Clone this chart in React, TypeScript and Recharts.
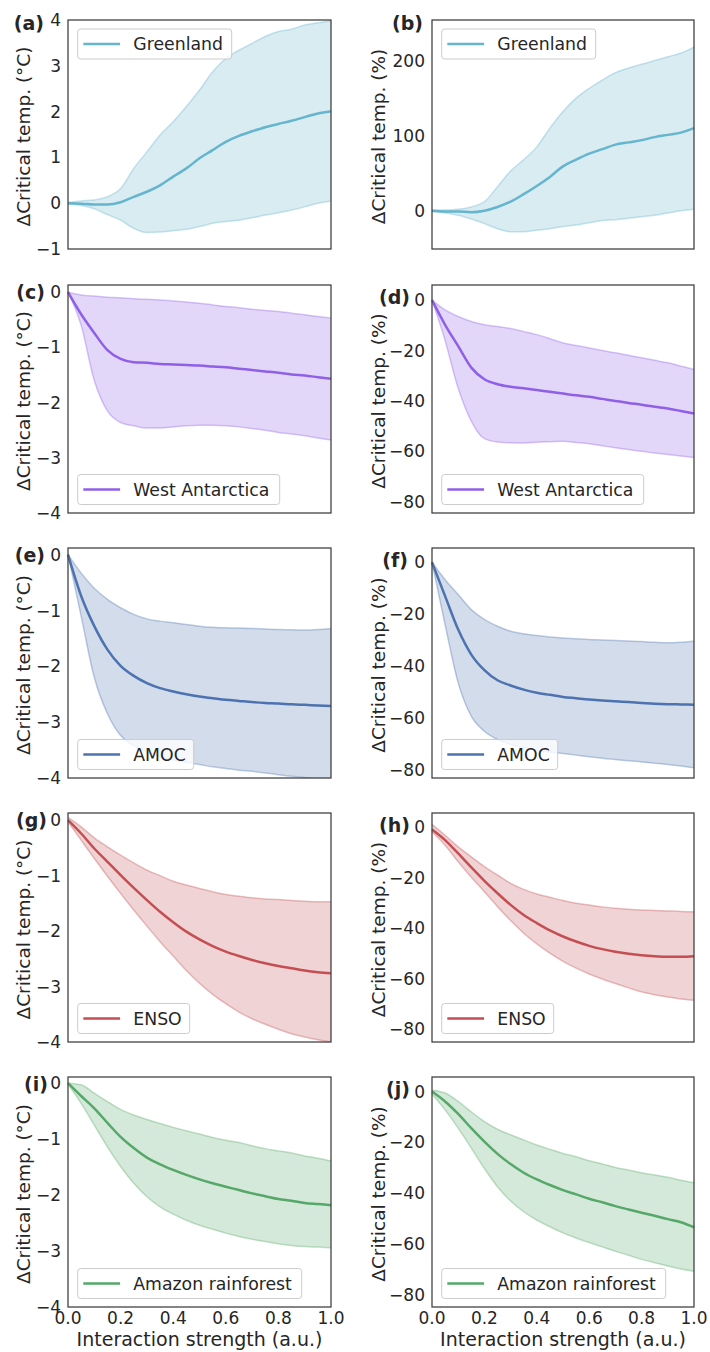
import React from 'react';
import { ComposedChart, Area, Line, XAxis, YAxis } from 'recharts';

// interaction strength samples
const XS = [0, 0.05, 0.1, 0.15, 0.2, 0.25, 0.3, 0.35, 0.4, 0.45, 0.5, 0.55, 0.6, 0.65, 0.7, 0.75, 0.8, 0.85, 0.9, 0.95, 1];
const X_TICKS = [0, 0.2, 0.4, 0.6, 0.8, 1];

// Greenland
const greenlandMean = [0, -0.01, -0.03, -0.03, 0.02, 0.14, 0.25, 0.39, 0.58, 0.76, 0.98, 1.16, 1.34, 1.47, 1.57, 1.66, 1.73, 1.8, 1.88, 1.96, 2.01];
const greenlandHi = [0.02, 0.05, 0.07, 0.14, 0.32, 0.76, 1.12, 1.49, 1.78, 2.11, 2.47, 2.87, 3.16, 3.34, 3.49, 3.64, 3.75, 3.8, 3.89, 3.94, 3.98];
const greenlandLo = [-0.02, -0.05, -0.12, -0.25, -0.37, -0.55, -0.64, -0.63, -0.6, -0.57, -0.51, -0.44, -0.4, -0.37, -0.32, -0.26, -0.21, -0.15, -0.08, 0, 0.05];
const greenlandPctMean = [0, -1, -1, -2, 0, 5, 12, 22, 33, 45, 59, 68, 76, 82, 88, 91, 94, 98, 101, 104, 110];
const greenlandPctHi = [1, 1, 2, 5, 12, 32, 53, 68, 85, 110, 132, 150, 163, 174, 184, 190, 195, 200, 205, 210, 218];
const greenlandPctLo = [-1, -3, -6, -11, -17, -24, -28, -28, -26, -24, -21, -19, -16, -13, -12, -10, -8, -6, -3, 0, 2];

// West Antarctica
const waisMean = [0, -0.4, -0.74, -1.05, -1.21, -1.27, -1.28, -1.3, -1.31, -1.32, -1.33, -1.345, -1.36, -1.385, -1.41, -1.435, -1.46, -1.49, -1.51, -1.54, -1.57];
const waisHi = [0, -0.05, -0.07, -0.09, -0.1, -0.12, -0.13, -0.14, -0.16, -0.18, -0.2, -0.23, -0.26, -0.28, -0.31, -0.33, -0.35, -0.38, -0.41, -0.44, -0.47];
const waisLo = [0, -0.6, -1.6, -2.15, -2.36, -2.42, -2.46, -2.46, -2.44, -2.42, -2.41, -2.41, -2.42, -2.44, -2.47, -2.5, -2.54, -2.57, -2.6, -2.64, -2.68];
const waisPctMean = [0, -9.8, -18.3, -26.8, -31.4, -33.4, -34.4, -35, -35.7, -36.4, -37.1, -37.8, -38.4, -39.2, -40, -40.8, -41.5, -42.3, -43, -44, -45];
const waisPctHi = [0, -3.9, -6.5, -8.5, -9.8, -10.5, -11.3, -12.5, -13.7, -15.3, -17, -18, -19, -20, -20.9, -21.9, -22.9, -23.9, -24.9, -26.2, -27.5];
const waisPctLo = [0, -16, -35, -48, -55, -56.3, -56.6, -56.7, -56.4, -56.2, -56, -56.5, -57, -57.8, -58.6, -59.3, -60, -60.7, -61.3, -61.9, -62.5];

// AMOC
const amocMean = [0, -0.74, -1.28, -1.7, -1.99, -2.17, -2.3, -2.39, -2.45, -2.5, -2.54, -2.57, -2.6, -2.62, -2.64, -2.655, -2.665, -2.68, -2.69, -2.7, -2.71];
const amocHi = [0, -0.33, -0.6, -0.8, -0.95, -1.07, -1.15, -1.19, -1.22, -1.25, -1.28, -1.3, -1.31, -1.315, -1.32, -1.33, -1.34, -1.345, -1.35, -1.34, -1.32];
const amocLo = [0, -1.1, -2.2, -2.85, -3.24, -3.42, -3.54, -3.62, -3.68, -3.72, -3.76, -3.8, -3.83, -3.86, -3.88, -3.91, -3.94, -3.97, -3.99, -4.02, -4.05];
const amocPctMean = [0, -13, -25.9, -35.5, -41.5, -45.4, -47.4, -49, -50.2, -51, -51.8, -52.3, -52.8, -53.2, -53.5, -53.8, -54.1, -54.4, -54.6, -54.7, -54.8];
const amocPctHi = [0, -6.7, -12.4, -18.2, -22, -24.6, -26.5, -27.5, -28.2, -28.7, -29.1, -29.4, -29.7, -29.9, -30.1, -30.3, -30.5, -30.8, -31, -30.8, -30.4];
const amocPctLo = [0, -24, -46.4, -59.2, -65, -68.2, -70.1, -71.3, -72.3, -73, -73.6, -74.2, -74.8, -75.4, -75.9, -76.4, -76.8, -77.3, -77.8, -78.4, -79.1];

// ENSO
const ensoMean = [0, -0.24, -0.51, -0.75, -0.99, -1.22, -1.44, -1.65, -1.84, -2.01, -2.15, -2.27, -2.37, -2.45, -2.52, -2.58, -2.63, -2.67, -2.71, -2.74, -2.76];
const ensoHi = [0.05, -0.12, -0.32, -0.48, -0.63, -0.77, -0.9, -1, -1.1, -1.17, -1.23, -1.29, -1.34, -1.37, -1.4, -1.42, -1.43, -1.45, -1.46, -1.47, -1.47];
const ensoLo = [-0.03, -0.36, -0.69, -1.01, -1.32, -1.62, -1.91, -2.19, -2.45, -2.71, -2.94, -3.14, -3.31, -3.46, -3.58, -3.68, -3.77, -3.85, -3.91, -3.96, -4];
const ensoPctMean = [-1, -5.2, -10.5, -16, -21.3, -26.2, -30.8, -34.8, -38, -40.9, -43.3, -45.3, -47, -48.3, -49.3, -50.1, -50.7, -51.1, -51.3, -51.3, -51.1];
const ensoPctHi = [1, -3.3, -7.9, -11.8, -15.7, -19, -22.3, -24.7, -26.5, -27.8, -29.1, -30.2, -30.9, -31.6, -32.1, -32.5, -32.8, -33, -33.2, -33.4, -33.5];
const ensoPctLo = [-2, -7.2, -13.8, -19.9, -25.6, -31.5, -37, -42, -46.2, -49.9, -53.1, -55.8, -58.1, -60.1, -61.9, -63.6, -65.2, -66.3, -67.2, -68, -68.5];

// Amazon rainforest
const amazonMean = [0, -0.23, -0.45, -0.71, -0.96, -1.16, -1.33, -1.45, -1.55, -1.64, -1.72, -1.79, -1.85, -1.91, -1.97, -2.02, -2.07, -2.1, -2.14, -2.16, -2.18];
const amazonHi = [0, -0.03, -0.18, -0.33, -0.47, -0.57, -0.65, -0.72, -0.79, -0.85, -0.91, -0.97, -1.02, -1.06, -1.12, -1.17, -1.21, -1.25, -1.3, -1.34, -1.39];
const amazonLo = [-0.02, -0.36, -0.75, -1.14, -1.49, -1.79, -2.03, -2.21, -2.34, -2.45, -2.54, -2.61, -2.68, -2.74, -2.79, -2.83, -2.87, -2.9, -2.92, -2.93, -2.94];
const amazonPctMean = [0, -3.9, -8.8, -14.4, -19.7, -24.5, -28.5, -31.9, -34.5, -36.7, -38.7, -40.4, -42.1, -43.5, -45, -46.3, -47.6, -48.8, -50.1, -51.3, -53.3];
const amazonPctHi = [0.5, -0.6, -3.9, -8, -11.8, -14.8, -17, -19, -21, -22.7, -24.3, -25.6, -27.2, -28.4, -29.8, -30.8, -31.9, -32.8, -33.7, -34.8, -35.8];
const amazonPctLo = [-1, -7.2, -14.4, -22.2, -30.2, -37.4, -43, -47.2, -50.5, -53.1, -55.5, -57.5, -59.3, -61, -62.7, -64.3, -65.9, -67.2, -68.5, -69.7, -70.6];

const TEMP_TICKS = [-4, -3, -2, -1, 0];
const PCT_TICKS = [-80, -60, -40, -20, 0];

const FONT = 'DejaVu Sans, sans-serif';
const INK = '#262626';

// layout (plot-area boxes)
const COL_LEFT = [68, 432];
const COL_W = [263, 262];
const ROW_TOP = [20, 285, 548, 813, 1077];
const ROW_H = [229, 228, 230, 229, 230];
const YW = 60;
const MT = 12;
const MR = 20;
const XH = 30;

const panels = [
  { tag: '(a)', row: 0, col: 0, name: 'Greenland', color: '#64B5CD', mean: greenlandMean, hi: greenlandHi, lo: greenlandLo, domain: [-1, 4], ticks: [-1, 0, 1, 2, 3, 4], legendTop: true, legendW: 154, tagX: 44, tagY: 24 },
  { tag: '(b)', row: 0, col: 1, name: 'Greenland', color: '#64B5CD', mean: greenlandPctMean, hi: greenlandPctHi, lo: greenlandPctLo, domain: [-51, 254], ticks: [0, 100, 200], legendTop: true, legendW: 154, tagX: 423, tagY: 24 },
  { tag: '(c)', row: 1, col: 0, name: 'West Antarctica', color: '#8F5FE8', mean: waisMean, hi: waisHi, lo: waisLo, domain: [-4, 0.13], ticks: TEMP_TICKS, legendW: 202, tagX: 45, tagY: 293 },
  { tag: '(d)', row: 1, col: 1, name: 'West Antarctica', color: '#8F5FE8', mean: waisPctMean, hi: waisPctHi, lo: waisPctLo, domain: [-84.5, 6], ticks: PCT_TICKS, legendW: 202, tagX: 410, tagY: 297.5 },
  { tag: '(e)', row: 2, col: 0, name: 'AMOC', color: '#4C72B0', mean: amocMean, hi: amocHi, lo: amocLo, domain: [-4, 0.12], ticks: TEMP_TICKS, legendW: 116, tagX: 45, tagY: 555.5 },
  { tag: '(f)', row: 2, col: 1, name: 'AMOC', color: '#4C72B0', mean: amocPctMean, hi: amocPctHi, lo: amocPctLo, domain: [-83, 5.5], ticks: PCT_TICKS, legendW: 116, tagX: 408, tagY: 560.5 },
  { tag: '(g)', row: 3, col: 0, name: 'ENSO', color: '#C44E52', mean: ensoMean, hi: ensoHi, lo: ensoLo, domain: [-4, 0.13], ticks: TEMP_TICKS, legendW: 112, tagX: 47, tagY: 821 },
  { tag: '(h)', row: 3, col: 1, name: 'ENSO', color: '#C44E52', mean: ensoPctMean, hi: ensoPctHi, lo: ensoPctLo, domain: [-85, 5.5], ticks: PCT_TICKS, legendW: 112, tagX: 410, tagY: 825.5 },
  { tag: '(i)', row: 4, col: 0, name: 'Amazon rainforest', color: '#55A868', mean: amazonMean, hi: amazonHi, lo: amazonLo, domain: [-4, 0.11], ticks: TEMP_TICKS, legendW: 224, tagX: 48, tagY: 1085 },
  { tag: '(j)', row: 4, col: 1, name: 'Amazon rainforest', color: '#55A868', mean: amazonPctMean, hi: amazonPctHi, lo: amazonPctLo, domain: [-84.6, 5.7], ticks: PCT_TICKS, legendW: 224, tagX: 410, tagY: 1089.5 },
];

const minus = (v: number) => String(v).replace('-', '\u2212');

function Panel({ p }: { p: any }) {
  const data = XS.map((x, i) => ({ x, mean: p.mean[i], band: [p.lo[i], p.hi[i]] }));
  const bottom = p.row === 4;
  const w = YW + COL_W[p.col] + MR;
  const h = MT + ROW_H[p.row] + (bottom ? XH : 12);
  const tickStyle = { fontSize: 17, fill: INK, fontFamily: FONT };
  return (
    <div style={{ position: 'absolute', left: COL_LEFT[p.col] - YW, top: ROW_TOP[p.row] - MT }}>
      <ComposedChart width={w} height={h} data={data} margin={{ top: MT, right: MR, bottom: bottom ? 0 : 12, left: 0 }}>
        <XAxis
          type="number"
          dataKey="x"
          domain={[0, 1]}
          ticks={X_TICKS}
          hide={!bottom}
          height={XH}
          tickSize={0}
          tickMargin={5}
          axisLine={false}
          tickFormatter={(v: number) => v.toFixed(1)}
          tick={tickStyle}
        />
        <YAxis
          type="number"
          domain={p.domain}
          ticks={p.ticks}
          allowDataOverflow
          width={YW}
          tickSize={0}
          tickMargin={7}
          axisLine={false}
          tickFormatter={minus}
          tick={tickStyle}
        />
        <Area
          dataKey="band"
          type="monotone"
          stroke={p.color}
          strokeOpacity={0.35}
          strokeWidth={1.5}
          fill={p.color}
          fillOpacity={0.25}
          isAnimationActive={false}
        />
        <Line dataKey="mean" type="monotone" stroke={p.color} strokeWidth={2.5} dot={false} isAnimationActive={false} />
      </ComposedChart>
    </div>
  );
}

function Overlay() {
  return (
    <svg width={710} height={1352} style={{ position: 'absolute', left: 0, top: 0, pointerEvents: 'none' }} fontFamily={FONT}>
      {panels.map((p) => {
        const x0 = COL_LEFT[p.col];
        const y0 = ROW_TOP[p.row];
        const pw = COL_W[p.col];
        const ph = ROW_H[p.row];
        const lx = x0 + 9.7;
        const ly = p.legendTop ? y0 + 9 : y0 + ph - 8.5 - 30;
        const cy = y0 + ph / 2 + 2;
        const labelX = p.col === 0 ? 30 : 385;
        return (
          <g key={p.tag}>
            <rect x={x0} y={y0} width={pw} height={ph} fill="none" stroke="#3c3c3c" strokeWidth={1.25} />
            <text x={p.tagX} y={p.tagY + 6} textAnchor="end" fontSize={19} fontWeight="bold" fill={INK}>
              {p.tag}
            </text>
            <text transform={`translate(${labelX},${cy}) rotate(-90)`} textAnchor="middle" fontSize={18.5} fill={INK}>
              {p.col === 0 ? '\u0394Critical temp. (\u00B0C)' : '\u0394Critical temp. (%)'}
            </text>
            <rect x={lx} y={ly} width={p.legendW} height={30} rx={3} fill="#fff" fillOpacity={0.8} stroke="#cccccc" strokeWidth={1} />
            <line x1={lx + 5.6} x2={lx + 42.4} y1={ly + 15} y2={ly + 15} stroke={p.color} strokeWidth={2.5} />
            <text x={lx + 55.6} y={ly + 21.3} fontSize={17.3} fill={INK}>
              {p.name}
            </text>
          </g>
        );
      })}
      <text x={199.5} y={1345.5} textAnchor="middle" fontSize={19} fill={INK}>
        Interaction strength (a.u.)
      </text>
      <text x={563} y={1345.5} textAnchor="middle" fontSize={19} fill={INK}>
        Interaction strength (a.u.)
      </text>
    </svg>
  );
}

export default function App() {
  return (
    <div style={{ position: 'absolute', left: 0, top: 0, width: 710, height: 1352, background: '#fff' }}>
      {panels.map((p) => (
        <Panel key={p.tag} p={p} />
      ))}
      <Overlay />
    </div>
  );
}
